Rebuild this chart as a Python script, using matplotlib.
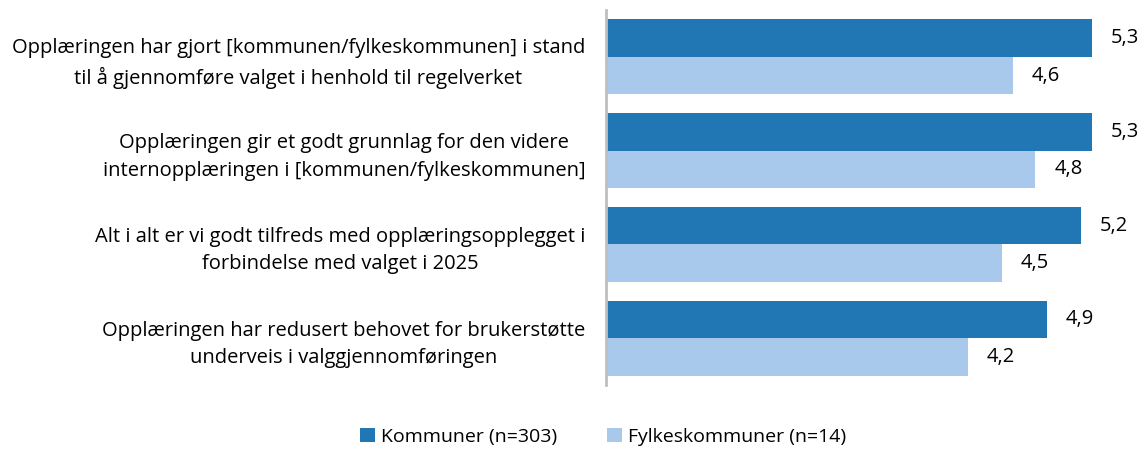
import matplotlib
matplotlib.use("Agg")
import matplotlib.pyplot as plt
import numpy as np

categories = [
    "Opplæringen har gjort [kommunen/fylkeskommunen] i stand\ntil å gjennomføre valget i henhold til regelverket",
    "Opplæringen gir et godt grunnlag for den videre\ninternopplæringen i [kommunen/fylkeskommunen]",
    "Alt i alt er vi godt tilfreds med opplæringsopplegget i\nforbindelse med valget i 2025",
    "Opplæringen har redusert behovet for brukerstøtte\nunderveis i valggjennomføringen",
]
kommuner = [5.3, 5.3, 5.2, 4.9]
fylkeskommuner = [4.6, 4.8, 4.5, 4.2]
series_names = ["Kommuner (n=303)", "Fylkeskommuner (n=14)"]
colors = ["#2177B4", "#A8C8EC"]

plt.rcParams['font.family'] = ['Open Sans', 'DejaVu Sans']
W, H = 1148, 449
fig = plt.figure(figsize=(W/100, H/100), dpi=100)
ax = fig.add_axes([606/W, (H-385)/H, (W-606)/W, 375/H])

base = 1.0
y = np.arange(len(categories))
h = 0.4
b1 = ax.barh(y - h/2, np.array(kommuner) - base, left=base, height=h, color=colors[0], label=series_names[0])
b2 = ax.barh(y + h/2, np.array(fylkeskommuner) - base, left=base, height=h, color=colors[1], label=series_names[1])

for bars, vals in ((b1, kommuner), (b2, fylkeskommuner)):
    for r, v in zip(bars, vals):
        ax.annotate(f"{v:.1f}".replace(".", ","), (v, r.get_y() + r.get_height()/2),
                    xytext=(19, 0), textcoords="offset pixels",
                    ha="left", va="center", fontsize=14.5, color="#000000")

ax.set_xlim(base, base + (W-606)/113)
ax.set_ylim(3.5, -0.5)
ax.set_yticks(y)
ax.set_yticklabels(categories, fontsize=14.5, multialignment="center", linespacing=1.5)
ax.tick_params(axis="y", length=0, pad=15)
ax.set_xticks([])
for s in ["top", "right", "bottom"]:
    ax.spines[s].set_visible(False)
ax.spines["left"].set_color("#BFBFBF")
ax.spines["left"].set_linewidth(2)

fig.legend(handles=[b1, b2], labels=series_names, loc="center", bbox_to_anchor=(603/W, 1-437/H),
           ncol=2, frameon=False, fontsize=14, handlelength=0.75, handleheight=0.75,
           handletextpad=0.3, columnspacing=2.6)

fig.savefig("out.png", dpi=100)
